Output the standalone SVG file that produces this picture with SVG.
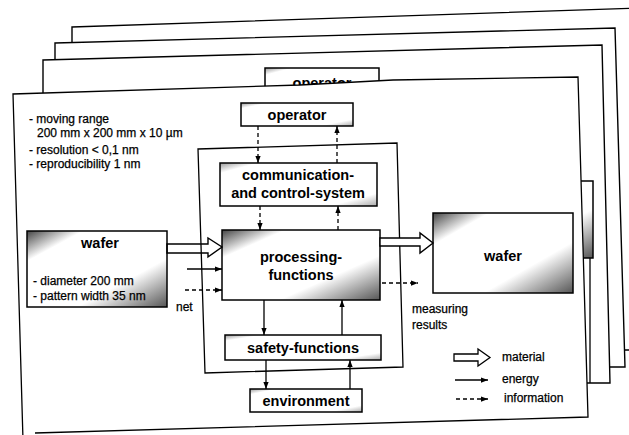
<svg xmlns="http://www.w3.org/2000/svg" width="629" height="435" viewBox="0 0 629 435">
<defs>
<style>
.pg{fill:#fff;stroke:#000;stroke-width:1.4}
.bx{stroke:#000;stroke-width:1.5}
.lbl{font-family:"Liberation Sans",Arial,sans-serif;font-weight:bold;font-size:14.5px;fill:#000;text-anchor:middle}
.txt{font-family:"Liberation Sans",Arial,sans-serif;font-size:12px;fill:#000;stroke:#000;stroke-width:0.25}
.ln{fill:none;stroke:#000;stroke-width:1.3}
.dash{stroke-dasharray:4,3}
</style>
<linearGradient id="dark" x1="0" y1="0" x2="1" y2="1">
<stop offset="0" stop-color="#444"/>
<stop offset="0.2" stop-color="#fff"/>
<stop offset="0.68" stop-color="#fff"/>
<stop offset="1" stop-color="#555"/>
</linearGradient>
<linearGradient id="light" x1="0" y1="0" x2="1" y2="1">
<stop offset="0" stop-color="#999"/>
<stop offset="0.12" stop-color="#fff"/>
<stop offset="0.85" stop-color="#fff"/>
<stop offset="1" stop-color="#aaa"/>
</linearGradient>
<marker id="ah" viewBox="0 0 8 6" refX="8" refY="3" markerWidth="7" markerHeight="5.5" orient="auto" markerUnits="userSpaceOnUse">
<path d="M0,0 L8,3 L0,6 z" fill="#000"/>
</marker>
</defs>
<rect width="629" height="435" fill="#fff"/>

<g id="page4">
<polygon class="pg" points="72,27 640,8 640,350 72,350"/>
</g>
<g id="page3">
<polygon class="pg" points="55,43 615,28 625,367 55,367"/>
</g>
<g id="page2">
<polygon class="pg" points="43,60 602,45 610,383 43,383"/>
<rect class="bx" x="265" y="68" width="114" height="30" fill="url(#light)"/>
<text class="lbl" x="322" y="88">operator</text>
<rect class="bx" x="450" y="181" width="143" height="77" fill="url(#dark)"/>
<line class="ln" x1="590" y1="258" x2="590" y2="383"/>
</g>

<g id="page1">
<path d="M13,94 L300,85 L393,80 L578,77 L588,417 L35,433 L23,440 Z" fill="#fff"/>
<path class="ln" d="M23,440 L13,94 L300,85 L393,80 L578,77 L588,417 L35,433" stroke-width="1.4"/>
</g>

<g id="notes">
<text class="txt" x="29" y="123">- moving range</text>
<text class="txt" x="37" y="137">200 mm x 200 mm x 10 µm</text>
<text class="txt" x="29" y="154">- resolution &lt; 0,1 nm</text>
<text class="txt" x="29" y="168">- reproducibility 1 nm</text>
</g>

<g id="frame">
<polygon class="ln" points="198,149 397,143 403,367 205,373"/>
</g>

<g id="operator">
<rect class="bx" x="241" y="103" width="112" height="23" fill="url(#light)"/>
<text class="lbl" x="297" y="119.5">operator</text>
</g>
<g id="comm">
<rect class="bx" x="220" y="163" width="157" height="43" fill="url(#light)"/>
<text class="lbl" x="298" y="180">communication-</text>
<text class="lbl" x="298" y="198">and control-system</text>
</g>
<g id="processing">
<rect class="bx" x="222" y="230" width="158" height="70" fill="url(#dark)"/>
<text class="lbl" x="301" y="262">processing-</text>
<text class="lbl" x="301" y="280">functions</text>
</g>
<g id="safety">
<rect class="bx" x="225" y="335" width="156" height="25" fill="url(#light)"/>
<text class="lbl" x="303" y="353">safety-functions</text>
</g>
<g id="environment">
<rect class="bx" x="250" y="389" width="112" height="23" fill="url(#light)"/>
<text class="lbl" x="306" y="406">environment</text>
</g>
<g id="wafer-in">
<rect class="bx" x="27" y="231" width="140" height="76" fill="url(#dark)"/>
<text class="lbl" x="100" y="248">wafer</text>
<text class="txt" x="33" y="285">- diameter 200 mm</text>
<text class="txt" x="33" y="300">- pattern width 35 nm</text>
</g>
<g id="wafer-out">
<rect class="bx" x="433" y="213" width="140" height="80" fill="url(#dark)"/>
<text class="lbl" x="503" y="261">wafer</text>
</g>

<g id="connectors">
<line class="ln dash" x1="258" y1="126" x2="258" y2="163" marker-end="url(#ah)"/>
<line class="ln dash" x1="337" y1="163" x2="337" y2="126" marker-end="url(#ah)"/>
<line class="ln dash" x1="260" y1="206" x2="260" y2="230" marker-end="url(#ah)"/>
<line class="ln dash" x1="338" y1="230" x2="338" y2="206" marker-end="url(#ah)"/>
<line class="ln" x1="264" y1="300" x2="264" y2="335" marker-end="url(#ah)"/>
<line class="ln" x1="342" y1="335" x2="342" y2="300" marker-end="url(#ah)"/>
<line class="ln" x1="266" y1="360" x2="266" y2="389" marker-end="url(#ah)"/>
<line class="ln" x1="350" y1="389" x2="350" y2="360" marker-end="url(#ah)"/>
<line class="ln" x1="187" y1="269" x2="222" y2="269" marker-end="url(#ah)"/>
<line class="ln dash" x1="185" y1="290" x2="222" y2="290" marker-end="url(#ah)"/>
<line class="ln dash" x1="382" y1="283" x2="418" y2="283" marker-end="url(#ah)"/>
<polygon points="167,244 208,244 208,238 222,247 208,257 208,253 167,253" fill="none" stroke="#000" stroke-width="1.4"/>
<polygon points="380,238 420,238 420,233 433,243 420,253 420,246 380,246" fill="#fff" stroke="#000" stroke-width="1.4"/>
</g>

<g id="labels">
<text class="txt" x="176" y="311">net</text>
<text class="txt" x="412" y="313">measuring</text>
<text class="txt" x="412" y="329">results</text>
</g>

<g id="legend">
<polygon points="454,354 478,354 478,349 490,357.5 478,366 478,361 454,361" fill="#fff" stroke="#000" stroke-width="1.3"/>
<text class="txt" x="502" y="361">material</text>
<line class="ln" x1="455" y1="380" x2="488" y2="380" marker-end="url(#ah)"/>
<text class="txt" x="502" y="383">energy</text>
<line class="ln dash" x1="456" y1="399" x2="488" y2="399" marker-end="url(#ah)"/>
<text class="txt" x="504" y="402">information</text>
</g>
</svg>
